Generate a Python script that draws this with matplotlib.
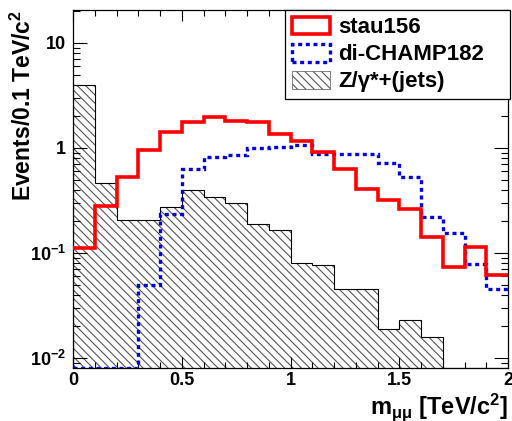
import numpy as np
import matplotlib
matplotlib.use("Agg")
import matplotlib.pyplot as plt
from matplotlib.patches import Patch
from matplotlib.ticker import FixedLocator, FixedFormatter, LogLocator, MultipleLocator, NullFormatter

plt.rcParams['font.family'] = ['Liberation Sans', 'DejaVu Sans']
plt.rcParams['font.weight'] = 'bold'
plt.rcParams['mathtext.fontset'] = 'custom'
plt.rcParams['mathtext.rm'] = 'Liberation Sans:bold'
plt.rcParams['mathtext.it'] = 'Liberation Sans:bold'
plt.rcParams['mathtext.bf'] = 'Liberation Sans:bold'
plt.rcParams['hatch.linewidth'] = 0.8

# ---- data ----
bin_edges = np.linspace(0.0, 2.0, 21)
stau156 = [0.112, 0.28, 0.53, 0.95, 1.43, 1.75, 1.97, 1.82, 1.76, 1.37,
           1.17, 0.92, 0.63, 0.41, 0.32, 0.264, 0.143, 0.074, 0.115, 0.062]
dichamp182 = [0, 0, 0, 0.05, 0.235, 0.63, 0.82, 0.86, 1.01, 1.02,
              1.07, 0.88, 0.88, 0.88, 0.72, 0.53, 0.22, 0.156, 0.079, 0.045]
zjets = [4.0, 0.46, 0.205, 0.205, 0.276, 0.40, 0.34, 0.30, 0.19, 0.166,
         0.081, 0.076, 0.045, 0.045, 0.019, 0.023, 0.016, 0, 0, 0]
labels = ['stau156', 'di-CHAMP182', 'Z/γ*+(jets)']
ytick_vals = [0.01, 0.1, 1, 10]
ytick_labels = [r'$10^{-2}$', r'$10^{-1}$', '1', '10']
xtick_vals = [0, 0.5, 1, 1.5, 2]
xtick_labels = ['0', '0.5', '1', '1.5', '2']

ymin, ymax = 0.00803, 20.6

fig = plt.figure(figsize=(5.12, 4.21), dpi=100)
ax = fig.add_axes([73/512, 1 - 368/421, (508-73)/512, (368-10)/421])
ax.set_yscale('log')
ax.set_xlim(0, 2)
ax.set_ylim(ymin, ymax)

z = np.clip(np.array(zjets, float), ymin, None)
c = np.clip(np.array(dichamp182, float), ymin, None)
s = np.array(stau156, float)

ax.stairs(z, bin_edges, baseline=ymin, fill=True, facecolor='white',
          edgecolor='#555555', hatch='\\\\\\\\', linewidth=0, zorder=1)
ax.stairs(z, bin_edges, baseline=ymin, fill=False, edgecolor='black',
          linewidth=0.8, zorder=2)
ax.stairs(c, bin_edges, baseline=None, color='#0000dd', linewidth=2.4,
          linestyle=(0, (1.2, 1.1)), zorder=3)
ax.stairs(s, bin_edges, baseline=None, color='#ff0000', linewidth=2.6, zorder=4)

ax.yaxis.set_major_locator(FixedLocator(ytick_vals))
ax.yaxis.set_major_formatter(FixedFormatter(ytick_labels))
ax.yaxis.set_minor_locator(LogLocator(base=10, subs=np.arange(2, 10)))
ax.yaxis.set_minor_formatter(NullFormatter())
ax.xaxis.set_major_locator(FixedLocator(xtick_vals))
ax.xaxis.set_major_formatter(FixedFormatter(xtick_labels))
ax.xaxis.set_minor_locator(MultipleLocator(0.1))

ax.tick_params(which='both', direction='in', top=True, right=True, width=0.8,
               labelsize=13)
ax.tick_params(axis='y', which='major', length=10, pad=5)
ax.tick_params(axis='y', which='minor', length=5)
ax.tick_params(axis='x', which='major', length=8, pad=3)
ax.tick_params(axis='x', which='minor', length=4.5)
for sp in ax.spines.values():
    sp.set_linewidth(0.9)

ax.set_ylabel('Events/0.1 TeV/c$^{2}$', fontsize=16.5, fontweight='bold', loc='top')
ax.yaxis.set_label_coords(-0.085, 1.0)
ax.set_xlabel(r'm$_{μμ}$ [TeV/c$^{2}$]', fontsize=17, fontweight='bold', loc='right')
ax.xaxis.set_label_coords(1.0, -0.064)

handles = [
    Patch(facecolor='white', edgecolor='#ff0000', linewidth=2.6),
    Patch(facecolor='white', edgecolor='#0000dd', linewidth=2.4, linestyle=(0, (1.2, 1.1))),
    Patch(facecolor='white', edgecolor='#555555', hatch='\\\\\\\\', linewidth=0.5),
]
leg = ax.legend(handles, labels, loc='upper left',
                bbox_to_anchor=(0.487, 0.0, 0.518, 1.0), mode='expand',
                frameon=True, fancybox=False, framealpha=1, edgecolor='black',
                borderaxespad=0, handlelength=1.75, handleheight=0.85,
                handletextpad=0.35, labelspacing=0.25, borderpad=0.3,
                prop={'weight': 'bold', 'size': 16})
leg.get_frame().set_linewidth(0.9)

fig.savefig('out.png', dpi=100)
